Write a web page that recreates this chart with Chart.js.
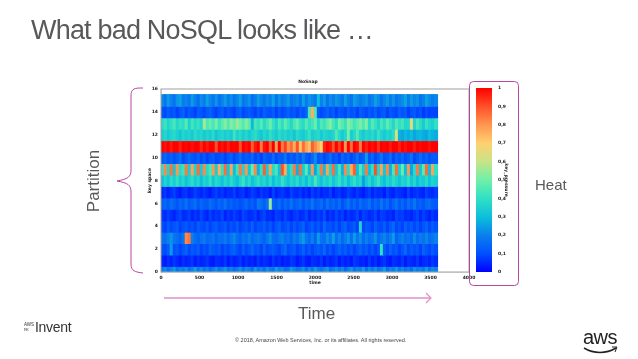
<!DOCTYPE html>
<html>
<head>
<meta charset="utf-8">
<title>What bad NoSQL looks like</title>
<script src="https://cdn.jsdelivr.net/npm/chart.js@4/dist/chart.umd.min.js"></script>
<style>
  html, body { margin: 0; padding: 0; background: #fff; }
  #slide { position: relative; width: 638px; height: 359px; overflow: hidden; font-family: "Liberation Sans", Arial, sans-serif; color: #58595b; }
  canvas { position: absolute; left: 0; top: 0; filter: blur(0.7px); }
  svg { position: absolute; left: 0; top: 0; }
  .txt { position: absolute; white-space: nowrap; }
</style>
</head>
<body>
<div id="slide">
  <canvas id="heatChart" width="638" height="359"></canvas>
  <canvas id="barChart" width="638" height="359"></canvas>
  <svg width="638" height="359" fill="none">
    <path d="M143 88 C135 88 131 88 131 96 L131 170 C131 177 128 179 117 181 C128 183 131 185 131 192 L131 264 C131 271 135 272 143 273" stroke="#b8479f"/>
    <rect x="469.5" y="81.5" width="49" height="204" rx="4" stroke="#b8479f"/>
    <path d="M164 298 L430 298" stroke="#e08fc8" stroke-width="1.5"/>
    <path d="M426 293 L431 298 L426 303" stroke="#e08fc8" stroke-width="1.2"/>
    <path d="M584 348 C594 354 606 354 616 348" stroke="#222" stroke-width="1.5"/>
    <path d="M612 347 L617 347 L615 352" stroke="#222"/>
  </svg>
  <div class="txt" style="left:31px;top:15px;font-size:27px;letter-spacing:-0.8px">What bad NoSQL looks like …</div>
  <div class="txt" style="left:94px;top:181px;font-size:17px;transform:translate(-50%,-50%) rotate(-90deg)">Partition</div>
  <div class="txt" style="left:535px;top:176px;font-size:15px">Heat</div>
  <div class="txt" style="left:298px;top:304px;font-size:17px">Time</div>
  <div class="txt" style="left:235px;top:337px;font-size:5.5px;color:#444">© 2018, Amazon Web Services, Inc. or its affiliates. All rights reserved.</div>
  <div class="txt" style="left:24px;top:322px;font-size:4.5px;line-height:5px;color:#333">AWS<br>re:</div>
  <div class="txt" style="left:35px;top:319px;font-size:14px;color:#333;letter-spacing:-0.3px">Invent</div>
  <div class="txt" style="left:583px;top:326px;font-size:20px;color:#222;letter-spacing:-0.5px">aws</div>
</div>
<script>
// one array per key space row, values in percent of key pressure, time bin = 39 units
const timeStep = 39;
const row0 = [18,22,16,20,24,17,21,19,23,16,20,25,18,22,17,21,15,19,23,17,20,24,18,
  21,16,19,23,17,22,20,15,24,18,21,16,23,19,17,25,20,22,16,18,24,21,17,
  19,23,16,22,18,25,20,17,21,24,16,19,23,18,22,15,20,24,17,21,19,25,16,
  22,18,23,17,20,25,16,21,19,24,18,22,17,20,15,23,19,21,18,24,17,22,20];
const row1 = [5,3,6,4,7,5,3,6,4,5,7,3,6,4,5,7,4,3,6,5,4,7,3,
  6,4,5,7,3,6,4,5,3,7,4,6,5,3,7,4,6,3,5,4,7,6,3,
  5,7,4,3,6,5,4,7,3,6,4,5,7,3,6,4,5,3,7,6,4,5,3,
  7,4,6,3,5,7,4,3,6,5,4,7,3,6,5,4,7,3,5,6,4,7,5];
const row2 = [11,9,13,24,10,12,8,11,14,9,12,10,13,8,11,9,14,12,10,13,8,11,9,
  12,14,10,8,13,9,11,15,10,12,8,14,9,11,13,10,8,12,15,9,11,13,8,
  10,14,9,12,8,11,13,10,15,9,12,8,11,14,10,13,9,12,8,11,14,10,13,
  9,12,8,11,40,13,9,14,10,12,8,11,15,9,13,10,12,8,14,11,9,13,10];
const row3 = [17,16,20,23,18,16,14,18,82,85,20,16,14,17,19,15,16,18,14,17,16,19,15,
  18,21,16,14,18,16,20,15,17,19,16,14,18,22,16,15,18,20,16,17,14,19,16,
  21,24,18,15,20,14,24,17,16,22,18,25,16,21,15,19,23,16,24,18,22,15,20,
  16,18,23,15,18,21,16,19,24,14,17,20,16,18,15,22,16,19,17,21,16,18,20];
const row4 = [10,8,12,9,11,13,8,10,12,9,11,8,13,10,9,12,8,11,13,9,10,12,8,
  11,9,13,8,10,12,9,14,8,11,10,13,9,12,8,11,14,9,10,13,8,12,9,
  11,14,8,10,13,9,12,8,15,10,11,9,13,8,12,14,9,10,13,8,36,9,12,
  11,8,14,10,9,13,8,12,15,9,11,8,14,10,13,9,12,8,11,14,9,13,10];
const row5 = [7,5,8,6,4,7,9,5,6,8,4,7,5,9,6,4,8,5,7,6,9,4,7,
  5,8,6,4,9,7,5,6,8,4,7,9,5,6,4,8,7,5,9,6,4,7,8,
  5,6,9,4,7,5,8,6,10,4,7,5,9,6,8,4,7,5,6,9,4,8,7,
  5,6,9,4,8,7,5,6,4,9,7,8,5,6,4,7,9,5,8,6,4,7,5];
const row6 = [13,15,12,16,14,11,15,13,17,12,14,16,11,15,13,12,16,14,11,15,13,17,12,
  14,11,13,10,12,15,11,14,10,18,16,13,17,55,14,12,16,11,15,13,17,12,14,
  16,11,15,13,18,12,14,16,11,17,13,15,12,16,10,14,18,12,15,11,16,13,14,
  17,11,15,12,18,13,16,10,14,17,12,15,11,16,13,18,12,14,11,15,16,13,12];
const row7 = [5,7,4,6,8,5,3,6,7,4,5,8,6,4,7,5,3,6,8,5,7,4,6,
  5,8,4,6,7,3,5,8,6,4,7,5,6,3,8,4,6,7,5,4,8,6,5,
  7,4,6,3,8,5,7,4,6,5,8,3,6,7,4,5,8,6,4,7,5,3,6,
  8,4,7,5,6,3,8,5,4,7,6,5,3,8,4,6,7,5,4,8,6,5,7];
const row8 = [30,36,32,38,34,40,33,37,31,35,39,33,37,30,36,34,40,32,38,35,31,37,33,
  39,34,30,36,42,33,38,31,35,40,34,37,32,38,30,36,33,41,35,31,37,34,39,
  32,36,30,38,33,44,35,31,37,34,39,32,36,41,33,38,30,35,40,34,37,25,33,
  38,31,36,42,34,30,37,33,39,35,31,36,34,40,32,37,30,35,33,38,31,36,34];
const row9 = [40,82,36,85,32,80,38,42,84,34,78,36,86,33,82,38,44,80,34,76,40,86,32,
  78,30,42,84,36,80,32,48,82,28,40,88,34,78,38,44,30,90,76,32,40,84,28,
  86,34,46,30,80,26,38,84,30,78,36,86,32,44,28,82,38,76,88,30,46,34,84,
  30,40,90,36,78,32,82,28,44,86,34,48,30,80,26,38,84,32,46,86,30,78,40];
const row10 = [12,15,11,14,10,13,16,9,12,15,11,10,14,9,12,8,11,13,9,10,12,8,11,
  14,9,12,16,10,13,11,15,9,12,8,14,11,10,16,9,13,12,18,10,14,11,16,
  12,19,13,10,15,22,11,14,9,12,16,10,13,8,15,11,14,9,12,17,10,13,24,
  11,15,9,13,18,10,12,16,9,14,11,15,10,13,17,9,12,16,11,14,10,13,12];
const row11 = [100,98,100,97,100,100,96,100,99,100,98,100,100,95,100,97,100,100,90,100,98,100,96,
  100,99,100,90,100,98,100,88,97,100,84,98,100,88,100,78,100,84,92,80,86,76,90,
  72,86,78,72,88,82,76,70,96,100,98,90,100,92,100,80,100,86,100,98,84,100,96,
  100,98,100,94,100,99,100,97,100,100,96,100,98,100,100,97,100,99,100,100,98,100,100];
const row12 = [34,37,33,36,38,35,32,37,34,36,33,38,35,37,33,36,34,38,32,35,37,34,36,
  33,42,35,38,34,37,33,36,39,35,32,37,34,40,36,33,38,35,37,34,36,32,38,
  35,33,37,41,34,36,38,33,37,35,34,36,45,38,33,37,50,34,38,46,36,33,37,
  35,38,34,41,36,33,37,35,39,62,28,26,29,27,30,26,28,29,27,26,30,28,27];
const row13 = [38,42,36,40,44,37,41,39,46,35,43,38,41,37,56,45,48,44,50,42,47,52,46,
  53,48,55,50,46,52,47,29,44,40,46,38,43,49,41,36,45,39,47,42,37,44,48,
  41,38,46,40,43,49,37,45,42,47,52,44,39,50,46,41,53,48,43,47,51,45,52,
  38,46,41,36,44,39,47,42,37,45,40,43,37,38,65,36,44,39,33,41,37,35,40];
const row14 = [11,9,13,10,12,8,11,14,9,12,10,8,13,11,9,12,14,10,8,11,13,9,12,
  10,8,12,14,9,11,13,10,8,12,9,14,11,10,13,8,12,9,11,14,10,12,9,
  13,10,14,44,76,44,12,9,11,14,10,13,8,12,11,9,14,10,12,8,13,11,9,
  12,10,14,9,11,13,8,12,10,9,14,11,13,8,10,12,9,11,7,10,8,9,8];
const row15 = [22,18,24,20,17,23,25,19,21,18,24,20,16,22,19,25,21,18,23,17,20,24,19,
  22,17,21,25,18,20,23,16,19,24,21,18,22,20,25,17,23,19,21,24,18,20,22,
  17,25,19,23,21,18,30,20,24,17,22,19,23,21,18,25,20,17,24,22,19,21,23,
  18,20,25,22,17,21,24,19,23,18,20,22,26,19,24,21,23,17,20,25,22,19,21];

const heatRows = [row0, row1, row2, row3, row4, row5, row6, row7, row8, row9, row10, row11, row12, row13, row14, row15];
const barTicks = ['0', '0,1', '0,2', '0,3', '0,4', '0,5', '0,6', '0,7', '0,8', '0,9', '1'];
const palette = ['#0000ff', '#0050ff', '#0a80ec', '#0cc0dc', '#30e0c4', '#70f0a8', '#c8e488', '#ffd070', '#ff9650', '#ff5028', '#ff0000'];

function hex(c) {
    return [1, 3, 5].map(i => parseInt(c.substr(i, 2), 16));
}

// look up the palette for a value in 0..100
function heatColor(v) {
    const pos = Math.min(v / 10, 9.999);
    const i = Math.floor(pos);
    const f = pos - i;
    const a = hex(palette[i]);
    const b = hex(palette[i + 1]);
    const c = a.map((n, k) => Math.round(n + (b[k] - n) * f));
    return `rgb(${c[0]}, ${c[1]}, ${c[2]})`;
}

const cells = [];
const cellColors = [];
heatRows.forEach((values, r) => {
    values.forEach((v, i) => {
        // a little overlap so no white seam shows between the cells
        cells.push({ x: [i * timeStep, (i + 1) * timeStep + 6], y: r });
        cellColors.push(heatColor(v));
    });
});

const tickFont = { size: 4.5, weight: 'bold', family: '"DejaVu Sans"' };

const frame = {
    id: 'frame',
    afterDraw(chart) {
        const { ctx, chartArea: a } = chart;
        ctx.save();
        ctx.strokeStyle = '#a0a0a0';
        ctx.lineWidth = 1;
        ctx.strokeRect(a.left, a.top, a.right - a.left, a.bottom - a.top);
        ctx.restore();
    }
};

new Chart(document.getElementById('heatChart').getContext('2d'), {
    type: 'bar',
    data: {
        datasets: [{
            data: cells,
            backgroundColor: cellColors,
            borderWidth: 0,
            barThickness: 12
        }]
    },
    plugins: [frame],
    options: {
        indexAxis: 'y',
        responsive: false,
        animation: false,
        layout: { padding: { left: 147, right: 169, top: 78, bottom: 73 } },
        scales: {
            x: {
                type: 'linear',
                min: 0,
                max: 4000,
                afterFit: s => { s.height = 14; },
                grid: { display: false, drawTicks: false },
                ticks: { stepSize: 500, maxRotation: 0, padding: 3, color: '#222', font: tickFont, callback: v => String(v) },
                title: { display: true, text: 'time', color: '#222', font: tickFont, padding: 0 }
            },
            y: {
                type: 'linear',
                min: 0,
                max: 16,
                offset: false,
                afterFit: s => { s.width = 14; },
                grid: { display: false, drawTicks: false, offset: false },
                ticks: { stepSize: 2, padding: 3, color: '#222', font: tickFont },
                title: { display: true, text: 'key space', color: '#222', font: tickFont, padding: 0 }
            }
        },
        plugins: {
            legend: { display: false },
            tooltip: { enabled: false },
            title: { display: true, text: 'NoSnap', color: '#222', font: tickFont, padding: { top: 1, bottom: 4.6 } }
        }
    }
});

new Chart(document.getElementById('barChart').getContext('2d'), {
    type: 'bar',
    data: {
        labels: [''],
        datasets: [{
            data: [[0, 1]],
            borderWidth: 0,
            backgroundColor: (context) => {
                const a = context.chart.chartArea;
                if (!a) return palette[0];
                const g = context.chart.ctx.createLinearGradient(0, a.bottom, 0, a.top);
                palette.forEach((c, i) => g.addColorStop(i / (palette.length - 1), c));
                return g;
            }
        }]
    },
    options: {
        responsive: false,
        animation: false,
        layout: { padding: { left: 476, right: 129, top: 88, bottom: 87 } },
        datasets: { bar: { barPercentage: 1, categoryPercentage: 1 } },
        scales: {
            x: { display: false },
            y: {
                position: 'right',
                min: 0,
                max: 1,
                afterFit: s => { s.width = 17; },
                border: { display: false },
                grid: { display: false, drawTicks: false },
                ticks: {
                    stepSize: 0.1,
                    padding: 6,
                    color: '#222',
                    font: tickFont,
                    callback: (v, i) => barTicks[i]
                },
                title: { display: true, text: 'key_pressure', color: '#222', font: tickFont, padding: 0 }
            }
        },
        plugins: {
            legend: { display: false },
            tooltip: { enabled: false }
        }
    }
});
</script>
</body>
</html>
